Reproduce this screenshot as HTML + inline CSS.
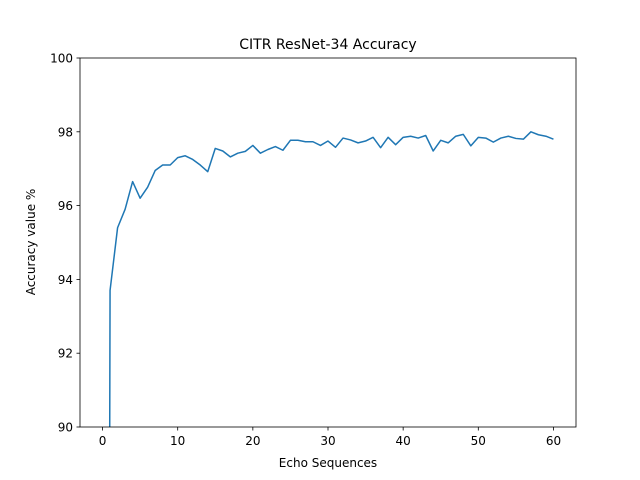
<!DOCTYPE html>
<html><head><meta charset="utf-8"><style>
html,body{margin:0;padding:0;background:#fff;width:640px;height:480px;overflow:hidden}
svg{display:block;font-family:"DejaVu Sans","Liberation Sans",sans-serif}
</style></head><body>
<svg id="chart" width="640" height="480" viewBox="0 0 640 480">
<rect width="640" height="480" fill="#fff"/>
<defs><clipPath id="clip"><rect x="80" y="58" width="496" height="369"/></clipPath></defs>
<text x="328" y="49" text-anchor="middle" font-size="14">CITR ResNet-34 Accuracy</text>
<text x="328" y="467" text-anchor="middle" font-size="12">Echo Sequences</text>
<text transform="translate(35,242) rotate(-90)" text-anchor="middle" font-size="12">Accuracy value %</text>
<g id="xticks"></g>
<g id="yticks"></g>
<g clip-path="url(#clip)"><path id="line" fill="none" stroke="#1f77b4" stroke-width="1.5" stroke-linejoin="round"/></g>
<rect x="80" y="58" width="496" height="369" fill="none" stroke="#000" stroke-width="0.8"/>
</svg>
<script>
const epochs = Array.from({length:61},(_, i)=>i);
const accuracy = [10,93.7,95.4,95.9,96.65,96.2,96.5,96.95,97.1,97.1,97.3,97.35,97.25,97.1,96.92,97.55,97.48,97.32,97.42,97.47,97.63,97.42,97.52,97.6,97.5,97.77,97.77,97.73,97.73,97.63,97.75,97.58,97.83,97.78,97.7,97.75,97.85,97.57,97.85,97.65,97.85,97.88,97.83,97.9,97.48,97.77,97.7,97.88,97.93,97.62,97.85,97.83,97.72,97.83,97.88,97.82,97.8,98.0,97.92,97.88,97.8];
const xTickLabels = [0,10,20,30,40,50,60];
const yTickLabels = [90,92,94,96,98,100];
const yMin = 90;
const X = v => 80 + (v + 3) / 66 * 496;
const Y = v => 427 - (v - 90) / 10 * 369;
const NS = "http://www.w3.org/2000/svg";
const mk = (t, a) => { const e = document.createElementNS(NS, t); for (const k in a) e.setAttribute(k, a[k]); return e; };
const xg = document.getElementById('xticks'), yg = document.getElementById('yticks');
xTickLabels.forEach(v => {
  const l = mk('line', {x1: X(v), x2: X(v), y1: 427, y2: 430.5, stroke: '#000', 'stroke-width': 0.8});
  
  
  xg.appendChild(l);
  const t = mk('text', {x: X(v), y: 445, 'text-anchor': 'middle', 'font-size': 12});
  
  
  t.textContent = v; xg.appendChild(t);
});
yTickLabels.forEach(v => {
  const l = mk('line', {x1: 76.5, x2: 80, y1: Y(v), y2: Y(v), stroke: '#000', 'stroke-width': 0.8});
  
  
  yg.appendChild(l);
  const t = mk('text', {x: 73, y: Y(v) + 4.5, 'text-anchor': 'end', 'font-size': 12});
  
  
  t.textContent = v; yg.appendChild(t);
});
// Build path, clipping segments at the bottom of the axis range
let d = '', started = false;
for (let i = 0; i < accuracy.length; i++) {
  const v = accuracy[i], x = epochs[i];
  if (v < yMin) {
    if (started && i > 0 && accuracy[i-1] >= yMin) {
      const p = accuracy[i-1], px = epochs[i-1];
      const cx = px + (x - px) * (p - yMin) / (p - v);
      d += 'L' + X(cx).toFixed(2) + ',' + Y(yMin).toFixed(2);
    }
    started = false;
    continue;
  }
  if (!started) {
    if (i > 0 && accuracy[i-1] < yMin) {
      const p = accuracy[i-1], px = epochs[i-1];
      const cx = px + (x - px) * (yMin - p) / (v - p);
      d += 'M' + X(cx).toFixed(2) + ',' + Y(yMin).toFixed(2) + 'L';
    } else d += 'M';
    started = true;
  } else d += 'L';
  d += X(x).toFixed(2) + ',' + Y(v).toFixed(2);
}
document.getElementById('line').setAttribute('d', d);
</script>
</body></html>
